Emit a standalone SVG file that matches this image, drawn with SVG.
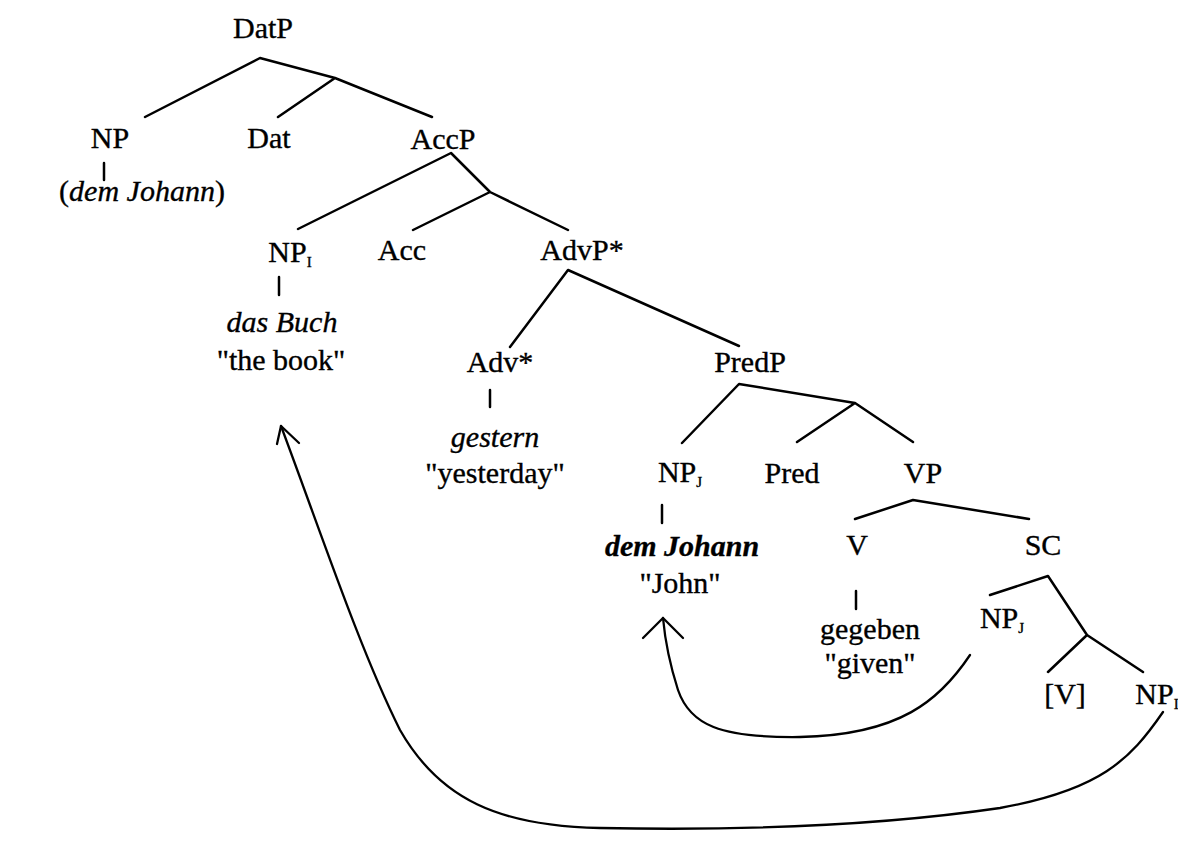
<svg xmlns="http://www.w3.org/2000/svg" width="1178" height="848" viewBox="0 0 1178 848">
  <style>
    text { font-family: "Liberation Serif", "Times New Roman", serif; font-size: 30px; fill: #000; stroke: #000; stroke-width: 0.35; text-anchor: middle; }
    .it { font-style: italic; }
    .bi { font-style: italic; font-weight: bold; }
    .sub { font-size: 15px; }
    .edge { stroke: #000; stroke-width: 2.5; fill: none; stroke-linecap: round; stroke-linejoin: round; }
    .move { stroke: #000; stroke-width: 2.3; fill: none; stroke-linecap: round; stroke-linejoin: round; }
  </style>
  <rect width="1178" height="848" fill="#fff"/>

  <!-- tree branches: each phrase drawn as a bent polyline with the head joining at the bend -->
  <g id="connectors">
    <!-- DatP -->
    <path class="edge" d="M145 117 L260 58 L335 78 L432 117 M335 78 L278 117"/>
    <!-- AccP -->
    <path class="edge" d="M298 229 L451 153 L490 192 L568 230 M490 192 L413 230"/>
    <!-- AdvP* -->
    <path class="edge" d="M510 347 L568 270 L739 346"/>
    <!-- PredP -->
    <path class="edge" d="M682 443 L739 384 L855 403 L913 442 M855 403 L797 442"/>
    <!-- VP -->
    <path class="edge" d="M855 519 L913 500 L1029 519"/>
    <!-- SC -->
    <path class="edge" d="M990 595 L1048 576 L1087 635 L1143 672 M1087 635 L1048 672"/>
    <!-- lexical ticks -->
    <path class="edge" d="M104 163 V180 M279 277 V295 M490 390 V407 M662 505 V523 M856 591 V609"/>
    <!-- movement arrows -->
    <path class="move" d="M970 655 C940 700 900 735 800 737 C720 738 690 725 678 690 C670 665 665 640 663 618"/>
    <path class="move" d="M643 638 L663 618 L683 638"/>
    <path class="move" d="M1163 712 C1130 760 1100 790 1000 808 C850 830 700 830 600 828 C500 826 440 800 400 730 C360 650 320 530 281 426"/>
    <path class="move" d="M277 444 L281 426 L299 443"/>
  </g>

  <g id="DatP"><text x="263" y="38">DatP</text></g>
  <g id="NP"><text x="110" y="148">NP</text></g>
  <g id="NP-lex"><text x="142" y="201">(<tspan class="it">dem Johann</tspan>)</text></g>
  <g id="Dat"><text x="269" y="148">Dat</text></g>
  <g id="AccP"><text x="443" y="149">AccP</text></g>
  <g id="NP-I"><text x="290" y="262">NP<tspan class="sub" dy="5">I</tspan></text></g>
  <g id="NP-I-lex">
    <text class="it" x="282" y="332">das Buch</text>
    <text x="281" y="370">"the book"</text>
  </g>
  <g id="Acc"><text x="402" y="260">Acc</text></g>
  <g id="AdvP"><text x="582" y="260">AdvP*</text></g>
  <g id="Adv"><text x="500" y="372">Adv*</text></g>
  <g id="Adv-lex">
    <text class="it" x="495" y="447">gestern</text>
    <text x="495" y="483">"yesterday"</text>
  </g>
  <g id="PredP"><text x="750" y="372">PredP</text></g>
  <g id="NP-J"><text x="680" y="482">NP<tspan class="sub" dy="5">J</tspan></text></g>
  <g id="NP-J-lex">
    <text class="bi" x="682" y="556">dem Johann</text>
    <text x="680" y="593">"John"</text>
  </g>
  <g id="Pred"><text x="792" y="483">Pred</text></g>
  <g id="VP"><text x="923" y="483">VP</text></g>
  <g id="V"><text x="857" y="555">V</text></g>
  <g id="V-lex">
    <text x="870" y="639">gegeben</text>
    <text x="870" y="673">"given"</text>
  </g>
  <g id="SC"><text x="1043" y="555">SC</text></g>
  <g id="NP-J-trace"><text x="1002" y="628">NP<tspan class="sub" dy="5">J</tspan></text></g>
  <g id="V-trace"><text x="1065" y="704">[V]</text></g>
  <g id="NP-I-trace"><text x="1157" y="704">NP<tspan class="sub" dy="5">I</tspan></text></g>
</svg>
